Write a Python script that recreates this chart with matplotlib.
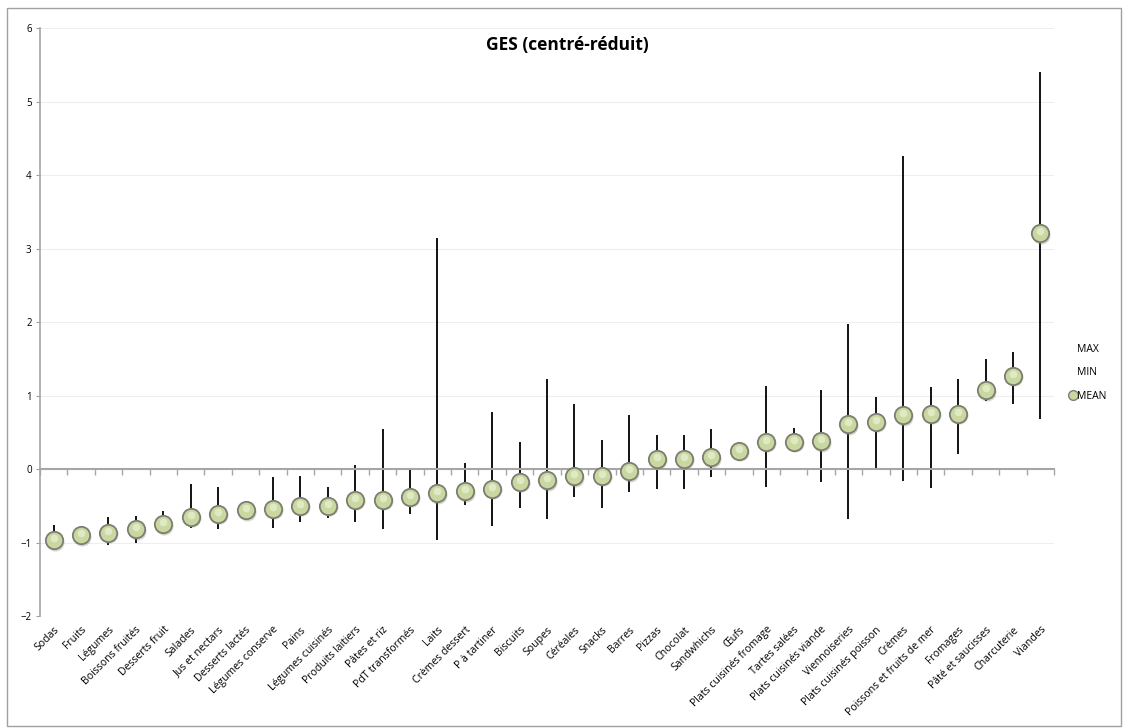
import numpy as np
import matplotlib
matplotlib.use("Agg")
import matplotlib.pyplot as plt
from matplotlib.lines import Line2D
from matplotlib.patches import Rectangle

plt.rcParams['font.family'] = ['Open Sans', 'DejaVu Sans']

categories = ["Sodas", "Fruits", "Légumes", "Boissons fruités", "Desserts fruit",
              "Salades", "Jus et nectars", "Desserts lactés", "Légumes conserve",
              "Pains", "Légumes cuisinés", "Produits laitiers", "Pâtes et riz",
              "PdT transformés", "Laits", "Crèmes dessert", "P à tartiner",
              "Biscuits", "Soupes", "Céréales", "Snacks", "Barres", "Pizzas",
              "Chocolat", "Sandwhichs", "Œufs", "Plats cuisinés fromage",
              "Tartes salées", "Plats cuisinés viande", "Viennoiseries",
              "Plats cuisinés poisson", "Crèmes", "Poissons et fruits de mer",
              "Fromages", "Pâté et saucisses", "Charcuterie", "Viandes"]

mean = [-0.97, -0.90, -0.87, -0.82, -0.75, -0.65, -0.61, -0.56, -0.54, -0.50,
        -0.50, -0.42, -0.42, -0.38, -0.33, -0.30, -0.27, -0.17, -0.15, -0.10,
        -0.09, -0.03, 0.14, 0.14, 0.16, 0.25, 0.37, 0.37, 0.38, 0.61,
        0.64, 0.73, 0.75, 0.75, 1.07, 1.27, 3.21]
mins = [-1.00, -1.03, -1.03, -1.01, -0.80, -0.80, -0.82, -0.58, -0.80, -0.72,
        -0.66, -0.72, -0.82, -0.61, -0.97, -0.49, -0.77, -0.53, -0.68, -0.38,
        -0.53, -0.31, -0.27, -0.27, -0.11, 0.25, -0.24, 0.32, -0.18, -0.68,
        0.02, -0.16, -0.26, 0.20, 0.92, 0.88, 0.68]
maxs = [-0.76, -0.88, -0.65, -0.64, -0.57, -0.20, -0.25, -0.44, -0.11, -0.10,
        -0.24, 0.05, 0.55, 0.00, 3.15, 0.08, 0.77, 0.37, 1.22, 0.89,
        0.39, 0.73, 0.46, 0.46, 0.54, 0.25, 1.13, 0.56, 1.07, 1.98,
        0.98, 4.26, 1.12, 1.22, 1.50, 1.59, 5.40]

x = np.arange(len(categories))

fig = plt.figure(figsize=(11.23, 7.28), dpi=100)
ax = fig.add_axes([0.0356, 0.1538, 0.9030, 0.8077])

# min-max bars then mean markers
ax.vlines(x, mins, maxs, color='black', lw=1.3, zorder=2)
shift = matplotlib.transforms.ScaledTranslation
ax.plot(x, mean, 'o', ms=13, mfc='#878a78', mec='none', alpha=0.35, zorder=3,
        transform=ax.transData + shift(1/100, -1.5/100, fig.dpi_scale_trans))
ax.plot(x, mean, 'o', ms=12.5, mfc='#c8d8a0', mec='#7d7d72', mew=1.3, zorder=4)
ax.plot(x, mean, 'o', ms=5.5, mfc='#e6efcf', mec='none', alpha=0.8, zorder=5,
        transform=ax.transData + shift(0, 2/100, fig.dpi_scale_trans))

ax.set_xlim(-0.5, len(categories) - 0.5)
ax.set_ylim(-2, 6)
ax.set_yticks(range(-2, 7))
ax.yaxis.grid(True, color='#eeeeee', lw=0.8)
ax.set_axisbelow(True)
ax.tick_params(axis='y', labelsize=7, length=3, color='#a0a0a0', pad=3)

for s in ['top', 'right']:
    ax.spines[s].set_visible(False)
ax.spines['left'].set_color('#a6a6a6')
ax.spines['left'].set_linewidth(1.2)
ax.spines['bottom'].set_position(('data', 0))
ax.spines['bottom'].set_color('#a6a6a6')
ax.spines['bottom'].set_linewidth(1.5)
ax.set_xticks(np.arange(len(categories) + 1) - 0.5)
ax.set_xticklabels([])
ax.tick_params(axis='x', length=4, color='#a6a6a6', width=1)

sec = ax.secondary_xaxis(0)
sec.set_xticks(x)
sec.set_xticklabels(categories, rotation=45, ha='right', rotation_mode='anchor',
                    fontsize=7.6)
sec.tick_params(length=0, pad=6)
sec.spines['bottom'].set_visible(False)

fig.text(0.505, 0.938, 'GES (centré-réduit)', fontsize=12.5, fontweight='bold',
         ha='center', va='center')

handles = [Line2D([], [], ls='none'),
           Line2D([], [], ls='none'),
           Line2D([], [], ls='none', marker='o', ms=7, mfc='#c8d8a0', mec='#7d7d72')]
fig.legend(handles, ['MAX', 'MIN', 'MEAN'], loc='center left',
           bbox_to_anchor=(0.944, 0.488), frameon=False, fontsize=7.5,
           handlelength=0.6, handletextpad=0.1, labelspacing=1.2)

fig.patches.append(Rectangle((0.006, 0.003), 0.992, 0.986, transform=fig.transFigure,
                             fill=False, edgecolor='#a0a0a0', lw=1))

fig.savefig('out.png', dpi=100)
